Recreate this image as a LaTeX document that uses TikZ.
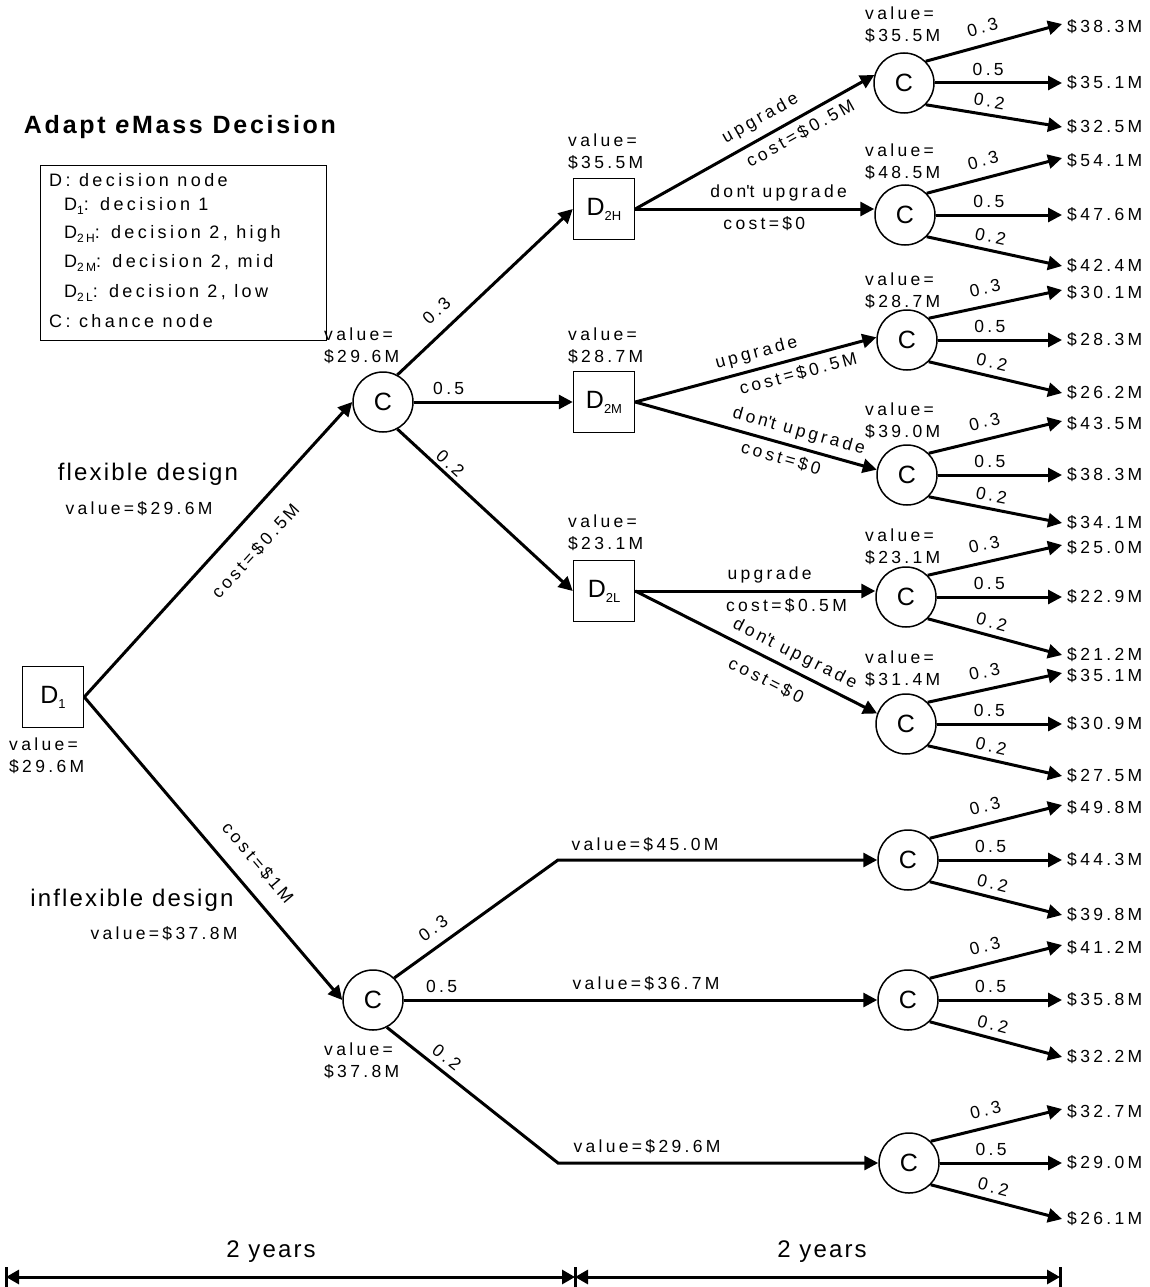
\documentclass[tikz,border=0pt]{standalone}
\usepackage{fontspec}
\setmainfont{Liberation Sans}
\newfontfamily\smallf{Liberation Sans}[LetterSpace=19]
\newfontfamily\legf{Liberation Sans}[LetterSpace=19]
\newfontfamily\bigf{Liberation Sans}[LetterSpace=9]
\newfontfamily\titf{Liberation Sans}[LetterSpace=11]
\newfontfamily\nodef{Liberation Sans}
\usetikzlibrary{arrows.meta}
\newcommand\nsub[1]{{\fontsize{13}{13}\selectfont\raisebox{-5pt}{#1}}}
\newcommand\lsub[1]{{\fontsize{12}{12}\selectfont\raisebox{-4pt}{#1}}}
\tikzset{
 dbox/.style={draw, line width=1.5pt, minimum width=61pt, minimum height=61pt, inner sep=0pt, font=\nodef\fontsize{25}{30}\selectfont},
 cnode/.style={draw, circle, line width=1.5pt, minimum size=60pt, inner sep=0pt, font=\nodef\fontsize{25}{30}\selectfont},
 conn/.style={line width=3pt, -{Triangle[length=14pt,width=14pt]}},
 dimline/.style={line width=3pt, {Triangle[length=13pt,width=14pt]}-{Triangle[length=13pt,width=14pt]}},
 barline/.style={line width=3pt},
 lab/.style={font=\smallf\fontsize{17.5}{21.5}\selectfont, inner sep=0pt, align=left},
 elab/.style={font=\smallf\fontsize{17.5}{21.5}\selectfont, inner sep=6pt},
 leg/.style={font=\legf\fontsize{18}{22}\selectfont, inner sep=0pt},
 big/.style={font=\bigf\fontsize{24}{28}\selectfont, inner sep=0pt},
 titlef/.style={font=\titf\bfseries\fontsize{25}{28}\selectfont, inner sep=0pt},
 legbox/.style={draw, line width=1.2pt, minimum width=286pt, minimum height=175pt, inner sep=0pt},
}
\newcommand\cl[9]{%
 \node[cnode] (#1) at (#2,#3) {C};
 \coordinate (#1a) at (1062,#4);
 \coordinate (#1b) at (1062,#5);
 \coordinate (#1c) at (1062,#6);
 \draw[conn] (#1.45) -- node[elab,pos=0.45,above=4pt,sloped] (#1pa) {0.3} (#1a);
 \draw[conn] (#1.east) -- node[elab,pos=0.42,above] (#1pb) {0.5} (#1b);
 \draw[conn] (#1.-45) -- node[elab,pos=0.45,above,sloped] (#1pc) {0.2} (#1c);
 \node[lab,anchor=west] (#1oa) at (1067,#4+3) {\$#7};
 \node[lab,anchor=west] (#1ob) at (1067,#5) {\$#8};
 \node[lab,anchor=west] (#1oc) at (1067,#6) {\$#9};
}
\begin{document}
\begin{tikzpicture}[x=1pt,y=-1pt]
\useasboundingbox (0,0) rectangle (1150,1287);

% title and legend
\node[titlef] (title) at (180,127) {Adapt \textit{e}Mass Decision};
\node[legbox, anchor=north west] (legend) at (40,165) {};
\node[leg, anchor=west] (l1) at (49,180) {D: decision node};
\node[leg, anchor=west] (l2) at (64,206) {D\lsub{1}: decision 1};
\node[leg, anchor=west] (l3) at (64,234) {D\lsub{2H}: decision 2, high};
\node[leg, anchor=west] (l4) at (64,263) {D\lsub{2M}: decision 2, mid};
\node[leg, anchor=west] (l5) at (64,293) {D\lsub{2L}: decision 2, low};
\node[leg, anchor=west] (l6) at (49,321) {C: chance node};

% main nodes
\node[dbox] (d1) at (53,697) {D\nsub{1}};
\node[cnode] (cf) at (383,402) {C};
\node[cnode] (ci) at (373,1000) {C};
\node[dbox] (d2h) at (604,209) {D\nsub{2H}};
\node[dbox] (d2m) at (604,402) {D\nsub{2M}};
\node[dbox] (d2l) at (604,591) {D\nsub{2L}};

% chance clusters
\cl{c1}{904}{83}{24}{83}{127}{38.3M}{35.1M}{32.5M}
\cl{c2}{905}{215}{158}{215}{266}{54.1M}{47.6M}{42.4M}
\cl{c3}{907}{340}{290}{340}{393}{30.1M}{28.3M}{26.2M}
\cl{c4}{907}{475}{421}{475}{523}{43.5M}{38.3M}{34.1M}
\cl{c5}{906}{597}{545}{597}{655}{25.0M}{22.9M}{21.2M}
\cl{c6}{906}{724}{673}{724}{776}{35.1M}{30.9M}{27.5M}
\cl{c7}{908}{860}{805}{860}{915}{49.8M}{44.3M}{39.8M}
\cl{c8}{908}{1000}{945}{1000}{1057}{41.2M}{35.8M}{32.2M}
\cl{c9}{909}{1163}{1109}{1163}{1219}{32.7M}{29.0M}{26.1M}

% first decision
\draw[conn] (d1.east) -- node[elab,pos=0.56,below=14pt,sloped] (e1) {cost=\$0.5M} (cf.west);
\draw[conn] (d1.east) -- node[elab,pos=0.6,above=10pt,sloped] (e2) {cost=\$1M} (ci.west);

% flexible chance
\draw[conn] (cf.62) -- node[elab,pos=0.3,above=6pt,sloped] (p1) {0.3} (d2h.west);
\draw[conn] (cf.east) -- node[elab,pos=0.22,above] (p2) {0.5} (d2m.west);
\draw[conn] (cf.-62) -- node[elab,pos=0.26,above,sloped,inner sep=3pt] (p3) {0.2} (d2l.west);

% second decisions
\draw[conn] (d2h.east) -- node[elab,pos=0.56,above=2pt,sloped] (u1) {upgrade} node[elab,pos=0.66,below,sloped] (k1) {cost=\$0.5M} (c1.165);
\draw[conn] (d2h.east) -- node[elab,pos=0.6,above] (n1) {don\textquotesingle t upgrade} node[elab,pos=0.54,below] (z1) {cost=\$0} (c2.west |- d2h.east);
\draw[conn] (d2m.east) -- node[elab,pos=0.52,above,sloped] (u2) {upgrade} node[elab,pos=0.66,below,sloped] (k2) {cost=\$0.5M} (c3.175);
\draw[conn] (d2m.east) -- node[elab,pos=0.66,above,sloped] (n2) {don\textquotesingle t upgrade} node[elab,pos=0.62,below,sloped] (z2) {cost=\$0} (c4.170);
\draw[conn] (d2l.east) -- node[elab,pos=0.56,above] (u3) {upgrade} node[elab,pos=0.63,below] (k3) {cost=\$0.5M} (c5.west |- d2l.east);
\draw[conn] (d2l.east) -- node[elab,pos=0.63,above,sloped] (n3) {don\textquotesingle t upgrade} node[elab,pos=0.58,below=6pt,sloped] (z3) {cost=\$0} (c6.160);

% inflexible chance
\coordinate (b1) at (558,860);
\coordinate (b2) at (558,1163);
\draw[conn] (ci.46) -- node[elab,pos=0.3,above=4pt,sloped] (q1) {0.3} (b1) -- (c7.west);
\draw[conn] (ci.east) -- node[elab,pos=0.08,above] (q2) {0.5} (c8.west);
\draw[conn] (ci.-63) -- node[elab,pos=0.3,above,sloped] (q3) {0.2} (b2) -- (c9.west);
\node[lab] (h1) at (645,845) {value=\$45.0M};
\node[lab] (h2) at (646,984) {value=\$36.7M};
\node[lab] (h3) at (647,1147) {value=\$29.6M};

% value labels
\node[lab,anchor=west] (vd1) at (9,756) {value=\\\$29.6M};
\node[lab,anchor=west] (vcf) at (324,346) {value=\\\$29.6M};
\node[lab,anchor=west] (vci) at (324,1061) {value=\\\$37.8M};
\node[lab,anchor=west] (vd2h) at (568,152) {value=\\\$35.5M};
\node[lab,anchor=west] (vd2m) at (568,346) {value=\\\$28.7M};
\node[lab,anchor=west] (vd2l) at (568,533) {value=\\\$23.1M};
\node[lab,anchor=west] (vc1) at (865,25) {value=\\\$35.5M};
\node[lab,anchor=west] (vc2) at (865,162) {value=\\\$48.5M};
\node[lab,anchor=west] (vc3) at (865,291) {value=\\\$28.7M};
\node[lab,anchor=west] (vc4) at (865,421) {value=\\\$39.0M};
\node[lab,anchor=west] (vc5) at (865,547) {value=\\\$23.1M};
\node[lab,anchor=west] (vc6) at (865,669) {value=\\\$31.4M};

% design labels
\node[big] (flex) at (148,474) {flexible design};
\node[lab] (flexv) at (139,509) {value=\$29.6M};
\node[big] (inflex) at (132,900) {inflexible design};
\node[lab] (inflexv) at (164,934) {value=\$37.8M};

% time axis
\coordinate (yl) at (6,1277);
\coordinate (ym) at (575,1277);
\coordinate (yr) at (1060,1277);
\draw[dimline] (yl) -- (ym);
\draw[dimline] (ym) -- (yr);
\draw[barline] ([yshift=10pt]yl) -- ([yshift=-10pt]yl);
\draw[barline] ([yshift=10pt]ym) -- ([yshift=-10pt]ym);
\draw[barline] ([yshift=10pt]yr) -- ([yshift=-10pt]yr);
\node[big] (t1) at (271,1252) {2 years};
\node[big] (t2) at (822,1252) {2 years};
\end{tikzpicture}
\end{document}
